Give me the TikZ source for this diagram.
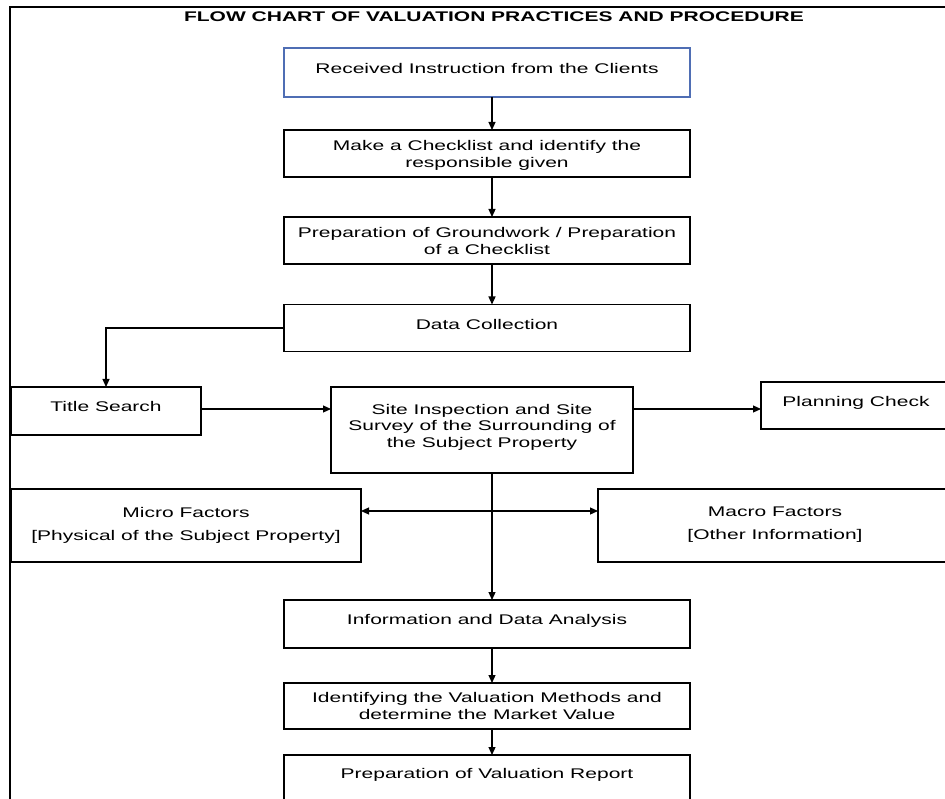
\documentclass[tikz,border=0pt]{standalone}
\usepackage{fontspec}
\setmainfont{Liberation Sans}[FakeStretch=1.5]
\usetikzlibrary{arrows.meta}

\definecolor{cblue}{RGB}{79,110,180}

\tikzset{
  box/.style={draw=black, line width=1.6pt, rectangle, inner sep=0pt, outer sep=0pt},
  txt/.style={anchor=north, align=center, inner sep=0pt},
  link/.style={draw=black, line width=1.2pt},
  arr/.style={link, -{Triangle[length=8pt,width=7pt]}},
  arrboth/.style={link, {Triangle[length=8pt,width=7pt]}-{Triangle[length=8pt,width=7pt]}},
}

\begin{document}
\begin{tikzpicture}[x=1pt, y=1pt, yscale=-1, inner sep=0pt, outer sep=0pt,
    font=\fontsize{14pt}{17pt}\selectfont]
\clip (0,0) rectangle (945,799);
\coordinate (spine) at (492,0);
\coordinate (rowA) at (0,409);
\coordinate (rowB) at (0,511);

% frame and heading
\draw[line width=2.4pt] (10,805) -- (10,7) -- (950,7);
\node[txt, font=\fontsize{14pt}{17pt}\selectfont\bfseries] (heading) at (494,12)
  {FLOW CHART OF VALUATION PRACTICES AND PROCEDURE};

% main column
\node[box, draw=cblue, line width=1.2pt, minimum width=406pt, minimum height=49pt] (recv) at (487,72.5) {};
\node[txt] (recv-t) at (487,63) {Received Instruction from the Clients};
\node[box, minimum width=406pt, minimum height=47pt] (check) at (487,153.5) {};
\node[txt] (check-t) at (487,140) {Make a Checklist and identify the\\responsible given};
\node[box, minimum width=406pt, minimum height=47pt] (ground) at (487,240.5) {};
\node[txt] (ground-t) at (487,227) {Preparation of Groundwork / Preparation\\of a Checklist};
\node[box, minimum width=406pt, minimum height=47pt] (data) at (487,328) {};
\node[txt] (data-t) at (487,319) {Data Collection};

% inspection row
\node[box, minimum width=190pt, minimum height=48pt] (tsearch) at (106,411) {};
\node[txt] (tsearch-t) at (106,401) {Title Search};
\node[box, minimum width=302pt, minimum height=86pt] (site) at (482,430) {};
\node[txt, font=\fontsize{14pt}{16.5pt}\selectfont] (site-t) at (482,404)
  {Site Inspection and Site\\Survey of the Surrounding of\\the Subject Property};
\node[box, minimum width=190pt, minimum height=47pt] (plan) at (856,405.5) {};
\node[txt] (plan-t) at (856,396) {Planning Check};

% factors
\node[box, minimum width=350pt, minimum height=73pt] (micro) at (186,525.5) {};
\node[txt] (micro-t) at (186,507) {Micro Factors\\[6pt]{[Physical of the Subject Property]}};
\node[box, minimum width=354pt, minimum height=73pt] (macro) at (775,525.5) {};
\node[txt] (macro-t) at (775,507) {Macro Factors\\[6pt]{[Other Information]}};

% lower column
\node[box, minimum width=406pt, minimum height=48pt] (info) at (487,624) {};
\node[txt] (info-t) at (487,614) {Information and Data Analysis};
\node[box, minimum width=406pt, minimum height=46pt] (ident) at (487,706) {};
\node[txt] (ident-t) at (487,692) {Identifying the Valuation Methods and\\determine the Market Value};
\node[box, minimum width=406pt, minimum height=50pt] (report) at (487,780) {};
\node[txt] (report-t) at (487,768) {Preparation of Valuation Report};

% connectors
\draw[arr] (recv.south -| spine) -- (check.north -| spine);
\draw[arr] (check.south -| spine) -- (ground.north -| spine);
\draw[arr] (ground.south -| spine) -- (data.north -| spine);
\draw[arr] (data.west) -| (tsearch.north);
\draw[arr] (tsearch.east |- rowA) -- (site.west |- rowA);
\draw[arr] (site.east |- rowA) -- (plan.west |- rowA);
\draw[arrboth] (micro.east |- rowB) -- (macro.west |- rowB);
\draw[arr] (site.south -| spine) -- (info.north -| spine);
\draw[arr] (info.south -| spine) -- (ident.north -| spine);
\draw[arr] (ident.south -| spine) -- (report.north -| spine);
\end{tikzpicture}
\end{document}
